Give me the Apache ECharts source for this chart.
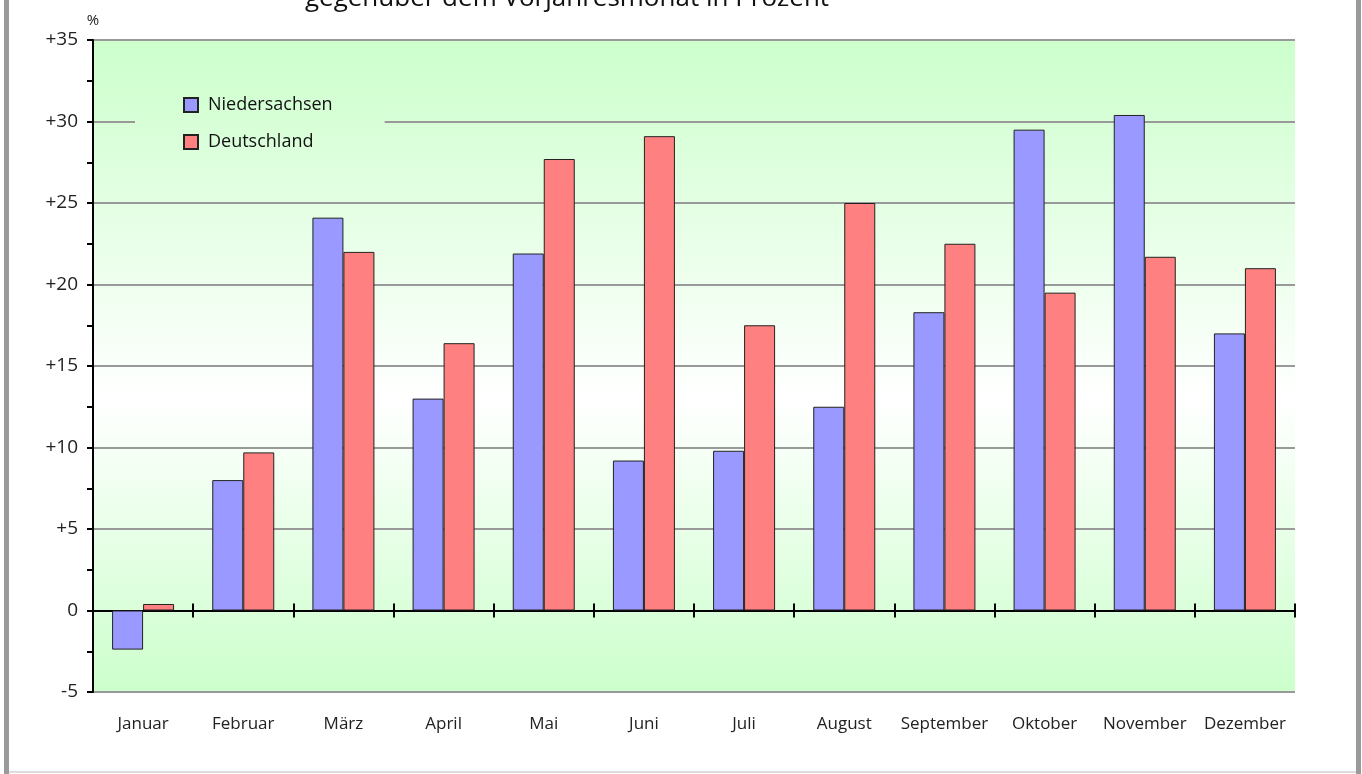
<!DOCTYPE html>
<html>
<head>
<meta charset="utf-8">
<script src="https://cdn.jsdelivr.net/npm/echarts@6/dist/echarts.min.js"></script>
<style>
html,body{margin:0;padding:0;background:#fff;}
#chart{width:1362px;height:774px;}
</style>
</head>
<body>
<div id="chart"></div>
<script>
const titleText = 'gegenüber dem Vorjahresmonat in Prozent';
const categories = ['Januar','Februar','März','April','Mai','Juni','Juli','August','September','Oktober','November','Dezember'];
const seriesNames = ['Niedersachsen','Deutschland'];
const niedersachsen = [-2.4, 8.0, 24.1, 13.0, 21.9, 9.2, 9.8, 12.5, 18.3, 29.5, 30.4, 17.0];
const deutschland = [0.4, 9.7, 22.0, 16.4, 27.7, 29.1, 17.5, 25.0, 22.5, 19.5, 21.7, 21.0];
const yTicks = [-5, 0, 5, 10, 15, 20, 25, 30, 35];

const FONT = 'Open Sans';
const chart = echarts.init(document.getElementById('chart'));

function baseCat(extra) {
  return Object.assign({
    type: 'category',
    data: categories,
    boundaryGap: true,
    splitLine: {show: false}
  }, extra);
}

const option = {
  animation: false,
  textStyle: {fontFamily: FONT},
  title: {
    text: titleText,
    left: 562,
    textAlign: 'center',
    top: -19,
    textStyle: {fontFamily: FONT, fontSize: 26, fontWeight: 'normal', color: '#111'}
  },
  legend: {
    orient: 'vertical',
    left: 135,
    top: 86,
    padding: [10, 52, 10, 48],
    backgroundColor: {
      type: 'linear', x: 0, y: 0, x2: 0, y2: 1,
      colorStops: [
        {offset: 0, color: '#d2ffd2'},
        {offset: 1, color: '#ddffdd'}
      ]
    },
    itemWidth: 14,
    itemHeight: 14,
    itemGap: 19,
    icon: 'rect',
    data: seriesNames,
    textStyle: {fontFamily: FONT, fontSize: 18, color: '#111', padding: [0, 0, 0, 5]},
    z: 5
  },
  grid: {
    left: 93, right: 67, top: 40, bottom: 82,
    show: true,
    borderWidth: 0,
    backgroundColor: {
      type: 'linear', x: 0, y: 0, x2: 0, y2: 1,
      colorStops: [
        {offset: 0, color: '#ccffcc'},
        {offset: 0.55, color: '#ffffff'},
        {offset: 1, color: '#ccffcc'}
      ]
    }
  },
  xAxis: [
    baseCat({
      position: 'bottom',
      axisLine: {show: false, onZero: false},
      axisTick: {show: false},
      axisLabel: {margin: 24, fontSize: 17, color: '#222', fontFamily: FONT, interval: 0}
    }),
    baseCat({
      position: 'bottom',
      axisLine: {show: true, onZero: true, onZeroAxisIndex: 0, lineStyle: {color: '#000', width: 2}},
      axisTick: {show: true, inside: true, length: 7, lineStyle: {color: '#000', width: 2}},
      axisLabel: {show: false}
    }),
    baseCat({
      position: 'bottom',
      axisLine: {show: true, onZero: true, onZeroAxisIndex: 0, lineStyle: {color: '#000', width: 2}},
      axisTick: {show: true, inside: false, length: 7, lineStyle: {color: '#000', width: 2}},
      axisLabel: {show: false}
    })
  ],
  yAxis: {
    type: 'value',
    min: yTicks[0],
    max: yTicks[yTicks.length - 1],
    interval: 5,
    name: '%',
    nameLocation: 'end',
    nameGap: 12,
    nameTextStyle: {fontFamily: FONT, fontSize: 15, color: '#222', align: 'center'},
    axisLine: {show: true, onZero: false, lineStyle: {color: '#000', width: 2}},
    axisTick: {show: true, length: 6, lineStyle: {color: '#000', width: 2}},
    minorTick: {show: true, splitNumber: 2, length: 6, lineStyle: {color: '#000', width: 2}},
    splitLine: {show: true, lineStyle: {color: '#999', width: 2}},
    axisLabel: {
      margin: 15, fontSize: 19, color: '#222', fontFamily: FONT,
      formatter: v => (v > 0 ? '+' + v : String(v))
    }
  },
  series: [
    {
      name: seriesNames[0], type: 'bar', xAxisIndex: 0,
      data: niedersachsen, barWidth: 31, barGap: '0%',
      itemStyle: {color: '#9999ff', borderColor: '#222', borderWidth: 1},
      z: 3
    },
    {
      name: seriesNames[1], type: 'bar', xAxisIndex: 0,
      data: deutschland, barWidth: 31, barGap: '0%',
      itemStyle: {color: '#ff8080', borderColor: '#222', borderWidth: 1},
      z: 3
    }
  ],
  graphic: [
    {type: 'rect', shape: {x: 4, y: 0, width: 5, height: 774}, style: {fill: '#9a9a9a'}, z: 10},
    {type: 'rect', shape: {x: 1356, y: 0, width: 5, height: 774}, style: {fill: '#9a9a9a'}, z: 10},
    {type: 'rect', shape: {x: 9, y: 771, width: 1347, height: 2}, style: {fill: '#dddddd'}, z: 10}
  ]
};
chart.setOption(option);
</script>
</body>
</html>
